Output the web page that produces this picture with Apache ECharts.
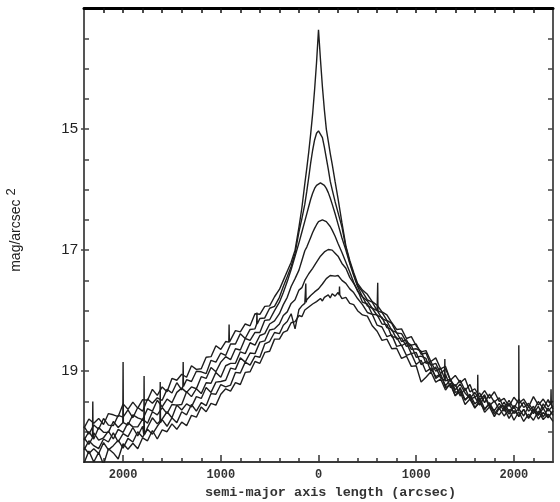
<!DOCTYPE html>
<html>
<head>
<meta charset="utf-8">
<script src="https://cdn.jsdelivr.net/npm/echarts@6/dist/echarts.min.js"></script>
<style>
html,body{margin:0;padding:0;background:#fff;}
#chart{width:560px;height:502px;}
</style>
</head>
<body>
<div id="chart"></div>
<script>
// semi-major axis positions (arcsec); negative = one side, positive = other side
const xs = [-2400,-2350,-2300,-2250,-2200,-2150,-2100,-2050,-2000,-1950,-1900,-1850,-1800,-1750,-1700,-1650,-1600,-1550,-1500,-1450,-1400,-1350,-1300,-1250,-1200,-1150,-1100,-1050,-1000,-950,-900,-850,-800,-750,-700,-650,-600,-550,-500,-450,
-400,-360,-320,-280,-240,-200,-170,-140,-120,-100,-80,-60,-40,-20,0,20,40,60,80,100,120,140,170,200,240,280,320,360,400,
450,500,550,600,650,700,750,800,850,900,950,1000,1050,1100,1150,1200,1250,1300,1350,1400,1450,1500,1550,1600,1650,1700,1750,1800,1850,1900,1950,2000,2050,2100,2150,2200,2250,2300,2350,2400];

// surface brightness profiles (mag/arcsec^2)
const profile1 = [19.94,19.79,19.86,19.78,19.88,19.70,19.72,19.75,19.54,19.63,19.51,19.61,19.47,19.48,19.30,19.40,19.26,19.34,19.12,19.15,19.05,19.10,18.91,18.97,18.96,18.77,18.76,18.58,18.64,18.51,18.54,18.33,18.35,18.22,18.25,18.05,18.06,17.93,17.92,17.77,
17.65,17.5,17.35,17.2,17.0,16.62,16.3,15.9,15.65,15.38,15.08,14.75,14.35,13.9,13.36,13.85,14.3,14.68,15.0,15.2,15.4,15.58,15.87,16.15,16.55,16.93,17.17,17.37,17.55,
17.66,17.73,17.85,17.91,18.02,18.07,18.20,18.31,18.30,18.46,18.43,18.58,18.68,18.66,18.84,18.78,18.96,18.92,19.15,19.07,19.19,19.12,19.34,19.29,19.43,19.32,19.45,19.34,19.50,19.45,19.58,19.43,19.53,19.46,19.59,19.42,19.56,19.46,19.59,19.49];
const profile2 = [19.91,20.04,19.89,19.96,19.78,19.89,19.90,19.73,19.76,19.64,19.77,19.60,19.66,19.46,19.53,19.44,19.48,19.30,19.36,19.19,19.31,19.14,19.17,19.00,19.01,19.04,18.82,18.85,18.70,18.74,18.55,18.55,18.38,18.46,18.31,18.30,18.13,18.12,17.96,17.93,
17.78,17.6,17.44,17.27,17.05,16.7,16.48,16.24,16.03,15.8,15.56,15.35,15.18,15.07,15.03,15.06,15.14,15.3,15.48,15.66,15.86,16.0,16.2,16.38,16.62,16.95,17.2,17.4,17.58,
17.69,17.82,17.86,18.00,18.03,18.16,18.21,18.37,18.38,18.52,18.57,18.55,18.72,18.70,18.90,18.87,19.04,18.96,19.15,19.25,19.15,19.32,19.22,19.43,19.36,19.52,19.38,19.51,19.44,19.62,19.48,19.62,19.46,19.60,19.53,19.65,19.50,19.62,19.47,19.63];
const profile3 = [20.14,20.00,20.12,19.93,20.01,20.01,19.83,19.93,19.83,19.89,19.72,19.77,19.80,19.62,19.66,19.48,19.59,19.46,19.52,19.35,19.28,19.35,19.26,19.29,19.09,19.12,18.94,19.01,18.85,18.76,18.81,18.63,18.65,18.46,18.49,18.36,18.36,18.16,18.15,18.00,
17.86,17.7,17.52,17.32,17.1,16.88,16.7,16.52,16.4,16.28,16.16,16.06,15.98,15.93,15.9,15.89,15.9,15.93,15.98,16.05,16.14,16.24,16.4,16.57,16.8,17.0,17.22,17.42,17.6,
17.77,17.84,17.96,18.00,18.13,18.17,18.33,18.36,18.51,18.48,18.64,18.63,18.67,18.87,18.84,19.00,18.95,19.16,19.13,19.31,19.21,19.36,19.45,19.35,19.48,19.39,19.57,19.49,19.63,19.51,19.67,19.57,19.66,19.51,19.66,19.58,19.72,19.54,19.66,19.57];
const profile4 = [20.10,20.21,20.02,20.14,20.10,19.99,20.12,19.96,20.01,19.85,19.92,19.92,19.79,19.86,19.67,19.72,19.60,19.70,19.55,19.56,19.55,19.34,19.42,19.29,19.37,19.19,19.20,19.02,19.10,18.91,18.87,18.87,18.68,18.71,18.53,18.57,18.41,18.38,18.22,18.17,
18.05,17.9,17.78,17.6,17.47,17.33,17.17,17.01,16.95,16.87,16.79,16.71,16.64,16.58,16.53,16.51,16.5,16.51,16.53,16.56,16.61,16.67,16.77,16.89,17.04,17.2,17.36,17.53,17.68,
17.77,17.92,17.96,18.08,18.11,18.28,18.31,18.47,18.45,18.59,18.57,18.77,18.75,18.79,19.00,18.93,19.11,19.05,19.27,19.22,19.41,19.28,19.46,19.43,19.56,19.42,19.59,19.65,19.53,19.66,19.53,19.70,19.62,19.74,19.58,19.70,19.58,19.76,19.61,19.73];
const profile5 = [20.30,20.15,20.23,20.28,20.12,20.17,20.02,20.17,20.03,20.08,19.93,20.07,19.91,19.93,19.77,19.87,19.79,19.67,19.77,19.56,19.64,19.54,19.59,19.42,19.45,19.27,19.35,19.18,19.17,19.15,18.95,18.97,18.78,18.85,18.70,18.71,18.52,18.50,18.32,18.30,
18.22,18.08,18.02,17.88,17.82,17.66,17.62,17.5,17.47,17.39,17.36,17.3,17.28,17.2,17.18,17.1,17.09,17.03,17.03,16.99,17.01,17.0,17.05,17.1,17.22,17.3,17.45,17.55,17.66,
17.86,17.89,18.06,18.07,18.22,18.23,18.43,18.44,18.58,18.53,18.71,18.69,18.89,18.84,18.89,19.12,19.06,19.24,19.14,19.35,19.32,19.48,19.38,19.54,19.44,19.62,19.54,19.71,19.59,19.57,19.71,19.58,19.75,19.63,19.78,19.65,19.73,19.61,19.76,19.66];
const profile6 = [20.26,20.36,20.28,20.36,20.18,20.30,20.23,20.14,20.27,20.11,20.17,20.00,20.09,19.96,20.04,19.91,19.80,19.91,19.77,19.85,19.67,19.72,19.55,19.66,19.52,19.57,19.37,19.38,19.22,19.26,19.23,19.02,19.03,18.85,18.90,18.75,18.77,18.55,18.51,18.36,
18.38,18.24,18.18,18.05,18.3,17.98,17.92,17.88,17.82,17.82,17.75,17.76,17.69,17.7,17.64,17.62,17.56,17.54,17.47,17.46,17.42,17.41,17.43,17.42,17.5,17.55,17.64,17.7,17.8,
17.90,18.03,18.06,18.24,18.27,18.43,18.40,18.59,18.57,18.74,18.71,18.89,18.82,19.01,18.95,19.09,19.05,19.27,19.22,19.41,19.27,19.47,19.41,19.60,19.52,19.64,19.52,19.67,19.72,19.61,19.78,19.65,19.74,19.63,19.77,19.62,19.79,19.68,19.77,19.65];
const profile7 = [20.52,20.32,20.50,20.34,20.54,20.28,20.35,20.45,20.20,20.29,20.19,20.28,20.10,20.15,19.98,20.12,19.97,20.00,19.87,19.96,19.84,19.90,19.73,19.76,19.59,19.67,19.53,19.56,19.38,19.29,19.33,19.19,19.22,19.02,19.01,18.84,18.87,18.69,18.67,18.47,
18.47,18.36,18.33,18.2,18.18,18.08,18.1,17.99,18.0,17.94,17.96,17.89,17.92,17.85,17.87,17.8,17.84,17.78,17.8,17.74,17.79,17.72,17.76,17.7,17.8,17.78,17.88,17.9,18.0,
18.07,18.09,18.25,18.34,18.49,18.47,18.63,18.62,18.79,18.75,18.92,18.91,19.18,19.10,19.01,19.18,19.13,19.31,19.20,19.40,19.34,19.55,19.46,19.61,19.48,19.68,19.59,19.75,19.61,19.74,19.63,19.81,19.67,19.83,19.71,19.81,19.66,19.80,19.71,19.83];

// star spikes: [profile index, x (arcsec), level beside spike, spike tip]
const spikes = [
  [3, -2310, 20.10, 19.50],
  [2, -2000, 19.85, 18.85],
  [4, -1785, 20.05, 19.08],
  [5, -1620, 19.85, 19.18],
  [1, -1385, 19.25, 18.85],
  [0, -915, 18.52, 18.23],
  [1, -630, 18.22, 18.03],
  [5, -130, 17.86, 17.55],
  [6, 215, 17.74, 17.60],
  [2, 606, 18.02, 17.54],
  [3, 1293, 19.15, 18.80],
  [4, 1630, 19.50, 19.06],
  [2, 2050, 19.62, 18.57],
  [1, 2380, 19.55, 19.30]
];

const xLabelValues = [-2000, -1000, 0, 1000, 2000];
const xMinorTicks = [];
for (let v = -2200; v <= 2200; v += 200) xMinorTicks.push(v);
const yLabelValues = [15, 17, 19];
const yTicks = [];
for (let v = 13.5; v <= 20.01; v += 0.5) yTicks.push(Math.round(v * 10) / 10);

const profiles = [profile1, profile2, profile3, profile4, profile5, profile6, profile7];

function buildData(idx) {
  const pts = xs.map((x, i) => [x, profiles[idx][i]]);
  spikes.filter(s => s[0] === idx).forEach(s => {
    pts.push([s[1] - 3, s[2]], [s[1], s[3]], [s[1] + 3, s[2]]);
  });
  pts.sort((a, b) => a[0] - b[0]);
  return pts;
}

const lineColor = '#1e1e1e';
const series = profiles.map((p, i) => ({
  type: 'line',
  xAxisIndex: 0,
  yAxisIndex: 0,
  data: buildData(i),
  showSymbol: false,
  symbol: 'none',
  lineStyle: { color: lineColor, width: 1.4 },
  clip: true,
  animation: false,
  z: 3
}));

const chart = echarts.init(document.getElementById('chart'), null, { renderer: 'canvas' });
chart.setOption({
  animation: false,
  backgroundColor: '#ffffff',
  grid: { left: 84, right: 7, top: 8, bottom: 40, containLabel: false, outerBoundsMode: 'none' },
  xAxis: [
    {
      type: 'value', position: 'bottom', min: -2400, max: 2400,
      axisLine: { show: true, onZero: false, lineStyle: { color: '#3a3a3a', width: 2 } },
      axisTick: { show: true, inside: true, length: 4, customValues: xMinorTicks, lineStyle: { color: '#333', width: 1.5 } },
      axisLabel: {
        customValues: xLabelValues,
        formatter: v => String(Math.abs(v)),
        fontFamily: 'Liberation Mono', fontWeight: 'bold', fontSize: 12, color: '#333', margin: 7
      },
      splitLine: { show: false },
      name: 'semi-major axis length (arcsec)',
      nameLocation: 'middle', nameGap: 21,
      nameTextStyle: { fontFamily: 'Liberation Mono', fontWeight: 'bold', fontSize: 13.5, color: '#333', padding: [0, 0, 0, 24] }
    },
    {
      type: 'value', position: 'bottom', min: -2400, max: 2400,
      axisLine: { show: false, onZero: false },
      axisTick: { show: true, inside: true, length: 7, customValues: xLabelValues, lineStyle: { color: '#333', width: 1.5 } },
      axisLabel: { show: false }, splitLine: { show: false }
    },
    {
      type: 'value', position: 'top', min: -2400, max: 2400,
      axisLine: { show: true, onZero: false, lineStyle: { color: '#000', width: 3 } },
      axisTick: { show: true, inside: true, length: 5, customValues: xMinorTicks.concat(xLabelValues), lineStyle: { color: '#111', width: 1.5 } },
      axisLabel: { show: false }, splitLine: { show: false }
    }
  ],
  yAxis: [
    {
      type: 'value', inverse: true, min: 13, max: 20.5, position: 'left',
      axisLine: { show: true, onZero: false, lineStyle: { color: '#555', width: 2 } },
      axisTick: { show: true, inside: true, length: 5, customValues: yTicks, lineStyle: { color: '#444', width: 1.5 } },
      axisLabel: { customValues: yLabelValues, fontFamily: 'Liberation Sans', fontSize: 15, color: '#222', margin: 6 },
      splitLine: { show: false },
      name: '{n|mag/arcsec}{s|2}',
      nameLocation: 'middle', nameGap: 57, nameRotate: 90,
      nameTextStyle: {
        padding: [0, 0, 0, 10],
        rich: {
          n: { fontFamily: 'Liberation Sans', fontSize: 14, color: '#222' },
          s: { fontFamily: 'Liberation Sans', fontSize: 13, color: '#222', padding: [0, 0, 9, 4] }
        }
      }
    },
    {
      type: 'value', inverse: true, min: 13, max: 20.5, position: 'left',
      axisLine: { show: false, onZero: false },
      axisTick: { show: true, inside: false, length: 3, customValues: yLabelValues, lineStyle: { color: '#444', width: 1.5 } },
      axisLabel: { show: false }, splitLine: { show: false }
    },
    {
      type: 'value', inverse: true, min: 13, max: 20.5, position: 'right',
      axisLine: { show: true, onZero: false, lineStyle: { color: '#555', width: 2 } },
      axisTick: { show: true, inside: true, length: 5, customValues: yTicks, lineStyle: { color: '#444', width: 1.5 } },
      axisLabel: { show: false }, splitLine: { show: false }
    }
  ],
  series: series
});
</script>
</body>
</html>
